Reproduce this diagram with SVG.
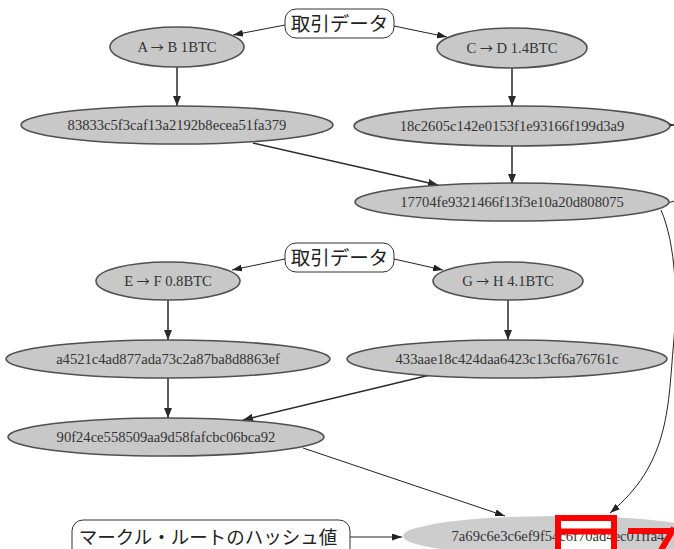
<svg xmlns="http://www.w3.org/2000/svg" width="674" height="549" viewBox="0 0 674 549">
  <style>
    .node ellipse { fill: #c8c8c8; stroke: #505050; stroke-width: 1.6; }
    .node text { font-family: "Liberation Serif", "Times New Roman", serif; font-size: 14.6px; fill: #333; text-anchor: middle; }
    .node .arr { font-family: "Noto Sans CJK JP", "DejaVu Sans", sans-serif; font-size: 13px; }
    .label rect { fill: #fff; stroke: #333; stroke-width: 1; }
    .label text { font-family: "Noto Sans CJK JP", "Noto Sans", sans-serif; fill: #222; text-anchor: middle; }
    .edge { fill: none; stroke: #2a2a2a; stroke-width: 1.5; marker-end: url(#arrow); }
    .thin { fill: none; stroke: #222; stroke-width: 1; marker-end: url(#arrowSmall); }
    .mark { fill: none; stroke: #ff0000; stroke-width: 6; }
  </style>
  <defs>
    <marker id="arrow" viewBox="0 0 10 8" refX="10" refY="4" markerWidth="10" markerHeight="8" markerUnits="userSpaceOnUse" orient="auto">
      <path d="M0,0 L10,4 L0,8 z" fill="#2a2a2a"/>
    </marker>
    <marker id="arrowSmall" viewBox="0 0 10 7" refX="10" refY="3.5" markerWidth="10" markerHeight="7" markerUnits="userSpaceOnUse" orient="auto">
      <path d="M0,0 L10,3.5 L0,7 z" fill="#222"/>
    </marker>
  </defs>

  <rect width="674" height="549" fill="#fff"/>

  <!-- connectors -->
  <g id="edges">
    <path class="thin" d="M285,25 L233,35"/>
    <path class="thin" d="M394,26 L447,37"/>
    <path class="edge" d="M177,67 L177,106"/>
    <path class="edge" d="M512,68 L512,106"/>
    <path class="edge" d="M253,143 L438,185"/>
    <path class="edge" d="M512,146 L512,184"/>
    <path class="edge" d="M670,125 L674,125"/>
    <path class="thin" d="M661,210 C676,245 678,300 673,350 C668,410 668,465 610,513"/>
    <path class="thin" d="M668,203 L674,201" style="marker-end:none"/>

    <path class="thin" d="M285,259 L232,270"/>
    <path class="thin" d="M394,259 L443,270"/>
    <path class="edge" d="M168,300 L168,340"/>
    <path class="edge" d="M508,300 L508,340"/>
    <path class="edge" d="M168,378 L168,418"/>
    <path class="edge" d="M430,375 L243,420"/>
    <path class="thin" d="M303,448 L505,516"/>
    <path class="thin" d="M350,537 L402,537"/>
  </g>

  <!-- labels -->
  <g id="label-tx1" class="label">
    <rect x="285" y="9" width="109" height="29" rx="11"/>
    <text x="339.5" y="30.5" font-size="19.5">取引データ</text>
  </g>
  <g id="label-tx2" class="label">
    <rect x="285" y="243" width="109" height="29" rx="11"/>
    <text x="339.5" y="264.5" font-size="19.5">取引データ</text>
  </g>
  <g id="label-root" class="label">
    <rect x="72" y="520" width="278" height="40" rx="11"/>
    <text x="208" y="544" font-size="18.5">マークル・ルートのハッシュ値</text>
  </g>

  <!-- transactions and hashes -->
  <g id="tx-ab" class="node">
    <ellipse cx="177" cy="47" rx="67" ry="20"/>
    <text x="177" y="52">A <tspan class="arr">→</tspan> B 1BTC</text>
  </g>
  <g id="tx-cd" class="node">
    <ellipse cx="512" cy="48" rx="75" ry="20"/>
    <text x="512" y="53">C <tspan class="arr">→</tspan> D 1.4BTC</text>
  </g>
  <g id="h-ab" class="node">
    <ellipse cx="177" cy="125" rx="156" ry="19"/>
    <text x="177" y="130">83833c5f3caf13a2192b8ecea51fa379</text>
  </g>
  <g id="h-cd" class="node">
    <ellipse cx="512" cy="126" rx="158" ry="20"/>
    <text x="512" y="131">18c2605c142e0153f1e93166f199d3a9</text>
  </g>
  <g id="h-abcd" class="node">
    <ellipse cx="512" cy="202" rx="157" ry="19"/>
    <text x="512" y="207">17704fe9321466f13f3e10a20d808075</text>
  </g>

  <g id="tx-ef" class="node">
    <ellipse cx="168" cy="281" rx="72" ry="19"/>
    <text x="168" y="286">E <tspan class="arr">→</tspan> F 0.8BTC</text>
  </g>
  <g id="tx-gh" class="node">
    <ellipse cx="508" cy="281" rx="75" ry="19"/>
    <text x="508" y="286">G <tspan class="arr">→</tspan> H 4.1BTC</text>
  </g>
  <g id="h-ef" class="node">
    <ellipse cx="168" cy="359" rx="162" ry="19"/>
    <text x="168" y="364">a4521c4ad877ada73c2a87ba8d8863ef</text>
  </g>
  <g id="h-gh" class="node">
    <ellipse cx="507" cy="359" rx="160" ry="19"/>
    <text x="507" y="364">433aae18c424daa6423c13cf6a76761c</text>
  </g>
  <g id="h-efgh" class="node">
    <ellipse cx="166" cy="437" rx="158" ry="19"/>
    <text x="166" y="442">90f24ce558509aa9d58fafcbc06bca92</text>
  </g>

  <g id="root" class="node">
    <ellipse cx="558" cy="536" rx="155" ry="20" style="fill:#cdcdcd;stroke:none"/>
    <rect x="558" y="518" width="56" height="31" fill="#fff"/>
    <text x="558" y="541">7a69c6e3c6ef9f54c6f70ad4ec01ffa4</text>
  </g>

  <!-- red highlight -->
  <g id="highlight">
    <rect class="mark" x="558" y="518" width="56" height="40"/>
    <line class="mark" x1="558" y1="531.5" x2="614" y2="531.5" stroke-width="5"/>
    <line class="mark" x1="628" y1="531" x2="674" y2="531" stroke-width="6"/>
    <line class="mark" x1="674" y1="528" x2="660" y2="552" stroke-width="6"/>
  </g>
</svg>
